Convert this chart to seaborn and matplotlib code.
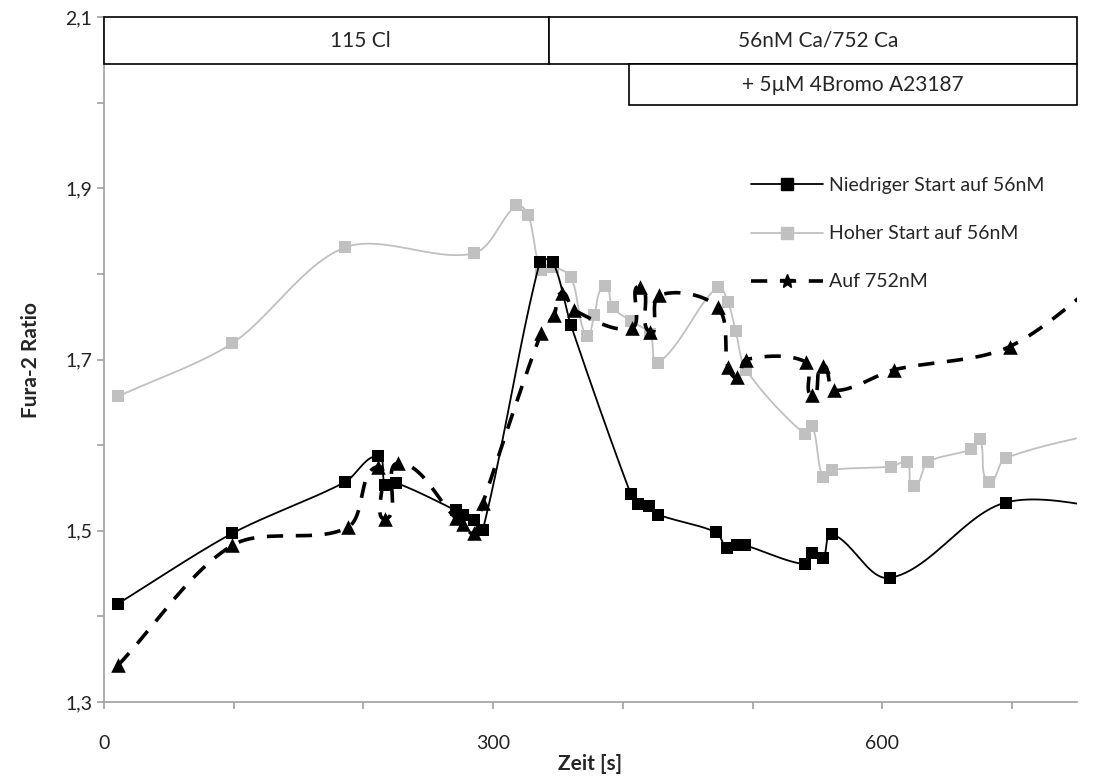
import numpy as np
import pandas as pd
import matplotlib
matplotlib.use("Agg")
import matplotlib.pyplot as plt
from matplotlib.patches import Rectangle
from matplotlib.lines import Line2D
from matplotlib.ticker import FixedLocator, FuncFormatter
import seaborn as sns

# ---------------- data ----------------
low_t = [11, 99, 186, 211, 217, 225, 271, 277, 285, 292, 336, 346, 360, 406, 412, 420, 427,
         472, 480, 488, 494, 540, 546, 554, 561, 606, 695, 800]
low_v = [1.415, 1.497, 1.557, 1.587, 1.553, 1.556, 1.524, 1.518, 1.512, 1.501, 1.814, 1.814,
         1.740, 1.543, 1.531, 1.529, 1.519, 1.498, 1.480, 1.483, 1.483, 1.461, 1.474, 1.468,
         1.496, 1.445, 1.533, 1.52]

high_t = [11, 99, 186, 285, 318, 327, 337, 346, 360, 372, 378, 386, 392, 406, 421, 427, 473,
          481, 487, 495, 540, 546, 554, 561, 607, 619, 624, 635, 668, 675, 682, 695, 800]
high_v = [1.657, 1.719, 1.831, 1.824, 1.880, 1.869, 1.804, 1.808, 1.796, 1.727, 1.752, 1.786,
          1.761, 1.745, 1.730, 1.696, 1.785, 1.767, 1.733, 1.688, 1.613, 1.622, 1.563, 1.571,
          1.575, 1.580, 1.552, 1.580, 1.595, 1.607, 1.557, 1.585, 1.625]

hi752_t = [11, 99, 188, 211, 217, 227, 271, 277, 285, 292, 337, 347, 353, 362, 407, 413, 421,
           428, 473, 481, 488, 495, 541, 546, 554, 563, 609, 698, 790]
hi752_v = [1.343, 1.483, 1.504, 1.575, 1.514, 1.579, 1.515, 1.508, 1.497, 1.532, 1.731, 1.752,
           1.778, 1.758, 1.737, 1.785, 1.732, 1.775, 1.761, 1.691, 1.679, 1.700, 1.697, 1.658,
           1.693, 1.664, 1.688, 1.715, 1.82]

series_labels = ["Niedriger Start auf 56nM", "Hoher Start auf 56nM", "Auf 752nM"]
box_texts = ["115 Cl", "56nM Ca/752 Ca", "+ 5\u00b5M 4Bromo A23187"]
x_ticks_major = [0, 300, 600]
y_ticks_major = [1.3, 1.5, 1.7, 1.9, 2.1]

# annotation boxes (time ranges / ratio ranges)
solution_change_t = 343
ionophore_t = 405
X_MAX = 750
Y_MIN, Y_MAX = 1.3, 2.1
BOX1_LOW = 2.045
BOX2_LOW = 1.997

# approximate display scale (pixels per data unit) used for smoothing
SX, SY = 1.3, 856.0


def smooth(t, v, n=24, k=0.3):
    """Excel-style smoothed line: Bezier segments with tangents scaled by segment length."""
    P = np.column_stack([np.asarray(t, float) * SX, np.asarray(v, float) * SY])
    m = len(P)
    D = np.zeros_like(P)
    for i in range(m):
        a = P[max(i - 1, 0)]
        b = P[min(i + 1, m - 1)]
        d = b - a
        nrm = np.hypot(*d)
        D[i] = d / nrm if nrm > 0 else 0
    out = []
    ts = np.linspace(0, 1, n)
    for i in range(m - 1):
        p1, p2 = P[i], P[i + 1]
        L = np.hypot(*(p2 - p1))
        c1 = p1 + D[i] * L * k
        c2 = p2 - D[i + 1] * L * k
        seg_t = ts if i == m - 2 else ts[:-1]
        for s in seg_t:
            out.append(((1 - s) ** 3) * p1 + 3 * ((1 - s) ** 2) * s * c1
                       + 3 * (1 - s) * s ** 2 * c2 + s ** 3 * p2)
    out = np.array(out)
    return pd.DataFrame({"t": out[:, 0] / SX, "v": out[:, 1] / SY})


sns.set_theme(style="white")
plt.rcParams["font.family"] = ["Lato", "DejaVu Sans"]

fig = plt.figure(figsize=(11.05, 7.79), dpi=100)
ax = fig.add_axes([0.094, 0.0988, 0.8807, 0.8794])

gray = "#c0c0c0"
dash = (0, (4.5, 3.5))

# gray series
sns.lineplot(data=smooth(high_t, high_v), x="t", y="v", sort=False, estimator=None,
             color=gray, lw=1.3, ax=ax, zorder=2)
sns.scatterplot(x=high_t, y=high_v, marker="s", s=85, color=gray, edgecolor=gray,
                linewidth=0, ax=ax, zorder=3)

# dashed series
sns.lineplot(data=smooth(hi752_t, hi752_v), x="t", y="v", sort=False, estimator=None,
             color="black", lw=2.6, ax=ax, zorder=4, linestyle=dash)
sns.scatterplot(x=hi752_t, y=hi752_v, marker="^", s=110, color="black", edgecolor="black",
                linewidth=0, ax=ax, zorder=5)

# black series
sns.lineplot(data=smooth(low_t, low_v), x="t", y="v", sort=False, estimator=None,
             color="black", lw=1.3, ax=ax, zorder=6)
sns.scatterplot(x=low_t, y=low_v, marker="s", s=85, color="black", edgecolor="black",
                linewidth=0, ax=ax, zorder=7)

ax.set_xlim(0, X_MAX)
ax.set_ylim(Y_MIN, Y_MAX)

# boxes
box_kw = dict(fill=True, facecolor="white", edgecolor="black", lw=1.2, zorder=10, clip_on=False)
ax.add_patch(Rectangle((0, BOX1_LOW), solution_change_t, Y_MAX - BOX1_LOW, **box_kw))
ax.add_patch(Rectangle((solution_change_t, BOX1_LOW), X_MAX - solution_change_t, Y_MAX - BOX1_LOW, **box_kw))
ax.add_patch(Rectangle((ionophore_t, BOX2_LOW), X_MAX - ionophore_t, BOX1_LOW - BOX2_LOW, **box_kw))
ax.text(198, (BOX1_LOW + Y_MAX) / 2, box_texts[0], ha="center", va="center", fontsize=15, zorder=11)
ax.text((solution_change_t + X_MAX) / 2 + 4, (BOX1_LOW + Y_MAX) / 2, box_texts[1], ha="center",
        va="center", fontsize=15, zorder=11)
ax.text((ionophore_t + X_MAX) / 2, (BOX2_LOW + BOX1_LOW) / 2, box_texts[2], ha="center",
        va="center", fontsize=15, zorder=11)

# axes styling
for side in ["top", "right"]:
    ax.spines[side].set_visible(False)
for side in ["left", "bottom"]:
    ax.spines[side].set_color("#a0a0a0")
    ax.spines[side].set_linewidth(1.2)

ax.xaxis.set_major_locator(FixedLocator(x_ticks_major))
ax.xaxis.set_minor_locator(FixedLocator(np.arange(0, X_MAX + 1, 100)))
ax.yaxis.set_major_locator(FixedLocator(y_ticks_major))
ax.yaxis.set_minor_locator(FixedLocator(np.round(np.arange(1.3, 2.11, 0.1), 2)))
ax.yaxis.set_major_formatter(FuncFormatter(lambda v, p: f"{v:.1f}".replace(".", ",")))
ax.xaxis.set_major_formatter(FuncFormatter(lambda v, p: f"{int(v)}"))
ax.tick_params(axis="both", which="both", direction="out", length=5, width=1.2, color="#a0a0a0",
               labelsize=14, labelcolor="#222222", bottom=True, left=True)
ax.tick_params(axis="x", which="major", pad=19)

ax.set_xlabel("Zeit [s]", fontsize=15, fontweight="bold", labelpad=1)
ax.set_ylabel("Fura-2 Ratio", fontsize=15, fontweight="bold", labelpad=17)
ax.grid(False)

handles = [
    Line2D([], [], color="black", lw=1.3, marker="s", markersize=9),
    Line2D([], [], color=gray, lw=1.3, marker="s", markersize=9),
    Line2D([], [], color="black", lw=2.6, linestyle=dash, marker="*", markersize=10),
]
fig.legend(handles, series_labels, loc="upper left", bbox_to_anchor=(0.664, 0.795), frameon=False,
           fontsize=14, handlelength=3.7, labelspacing=1.6, handletextpad=0.3)

fig.savefig("out.png", dpi=100, facecolor="white")
